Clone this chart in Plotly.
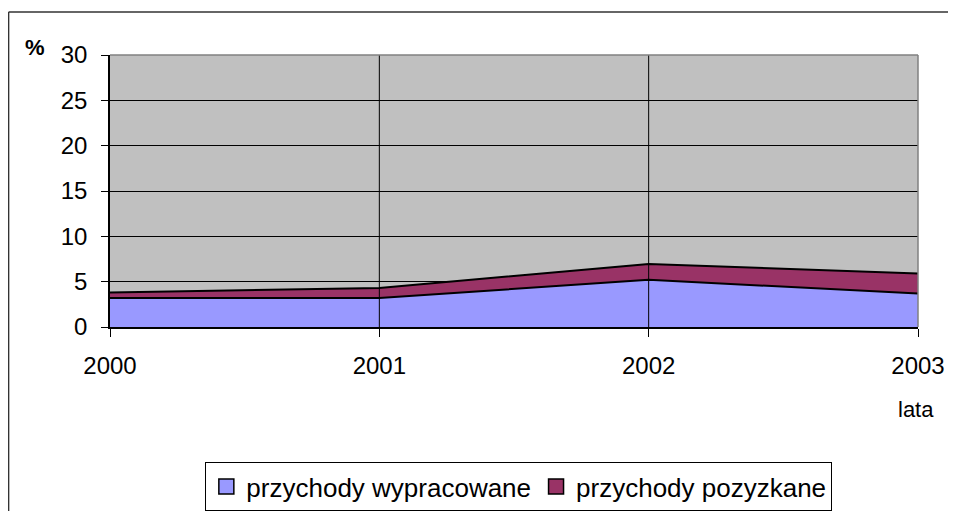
import plotly.graph_objects as go

years = [2000, 2001, 2002, 2003]
wypracowane = [3.2, 3.2, 5.2, 3.7]
pozyzkane = [0.6, 1.1, 1.75, 2.2]
y_ticks = [0, 5, 10, 15, 20, 25, 30]
series_names = ["przychody wypracowane", "przychody pozyzkane"]
series_colors = ["#9999FF", "#993366"]

FONT = "Liberation Sans, Arial, sans-serif"

fig = go.Figure()
for vals, name, col in zip([wypracowane, pozyzkane], series_names, series_colors):
    fig.add_trace(go.Scatter(
        x=years, y=vals, name=name, mode="lines", stackgroup="one",
        line=dict(color="black", width=2), fillcolor=col, showlegend=False,
    ))
# legend entries with square swatches
for name, col in zip(series_names, series_colors):
    fig.add_trace(go.Scatter(
        x=[None], y=[None], name=name, mode="markers",
        marker=dict(symbol="square", size=15, color=col, line=dict(color="black", width=1.5)),
        showlegend=True,
    ))

# vertical category gridlines drawn above the areas
for yr in years[1:-1]:
    fig.add_shape(type="line", xref="x", yref="paper", x0=yr, x1=yr, y0=0, y1=1,
                  line=dict(color="black", width=1), layer="above")
# plot-area border (top and right, grey)
fig.add_shape(type="line", xref="paper", yref="paper", x0=0, x1=1, y0=1, y1=1,
              line=dict(color="#808080", width=1.5), layer="above")
fig.add_shape(type="line", xref="paper", yref="paper", x0=1, x1=1, y0=0, y1=1,
              line=dict(color="#808080", width=1.5), layer="above")
# outer chart frame: only its left and top edges fall inside the picture
fig.add_shape(type="line", xref="paper", yref="paper",
              x0=-0.1255, x1=1.3, y0=1.158, y1=1.158,
              line=dict(color="#333333", width=1.5), layer="below")
fig.add_shape(type="line", xref="paper", yref="paper",
              x0=-0.1255, x1=-0.1255, y0=-0.9, y1=1.158,
              line=dict(color="#333333", width=1.5), layer="below")

fig.add_annotation(text="<b>%</b>", xref="paper", yref="paper",
                   x=-0.0928, y=1.026, xanchor="center", yanchor="middle",
                   showarrow=False, font=dict(size=22, family=FONT, color="black"))
fig.add_annotation(text="lata", xref="paper", yref="paper",
                   x=0.997, y=-0.305, xanchor="center", yanchor="middle",
                   showarrow=False, font=dict(size=22, family=FONT, color="black"))

fig.update_layout(
    width=948, height=503,
    margin=dict(l=102, r=38, t=47, b=184, autoexpand=False),
    paper_bgcolor="white",
    plot_bgcolor="#C0C0C0",
    font=dict(family=FONT, size=22, color="black"),
    showlegend=True,
    legend=dict(
        orientation="h", traceorder="normal",
        x=0.118, y=-0.497, xanchor="left", yanchor="top",
        bgcolor="white", bordercolor="black", borderwidth=1,
        font=dict(size=26, family=FONT),
        itemwidth=30, tracegroupgap=0,
    ),
    xaxis=dict(
        range=[2000, 2003], tickvals=years, ticktext=[str(y) for y in years],
        showgrid=False, zeroline=False,
        showline=True, linecolor="black", linewidth=1.5,
        ticks="outside", ticklen=8, tickcolor="black",
        ticklabelstandoff=8,
        tickfont=dict(size=24, family=FONT),
    ),
    yaxis=dict(
        range=[0, 30], tickvals=y_ticks,
        showgrid=True, gridcolor="black", gridwidth=1,
        zeroline=False,
        showline=True, linecolor="black", linewidth=1.5,
        ticks="outside", ticklen=7, tickcolor="black",
        ticklabelstandoff=9,
        tickfont=dict(size=24, family=FONT),
    ),
)

fig.write_html("out.html")
